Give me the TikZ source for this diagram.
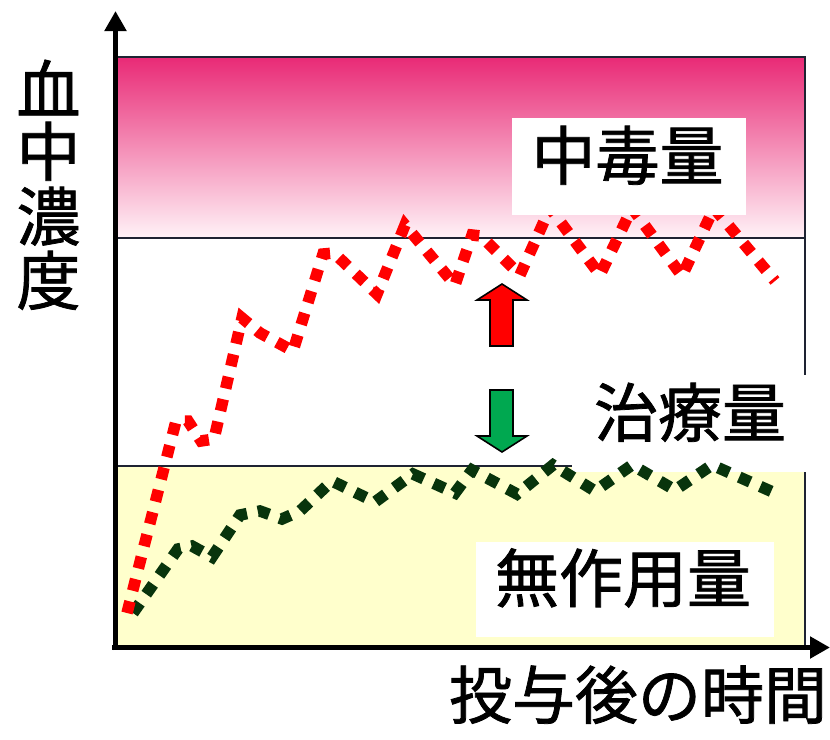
\documentclass[tikz,border=0pt]{standalone}
\usepackage{fontspec}
\setmainfont{Noto Sans CJK JP}[FakeBold=1.2]
\usetikzlibrary{arrows.meta}
\definecolor{pinktop}{RGB}{233,42,118}
\definecolor{pinkmid}{RGB}{246,135,180}
\definecolor{pinkbot}{RGB}{255,242,247}
\definecolor{paleyellow}{RGB}{255,255,204}
\definecolor{arrowgreen}{RGB}{0,168,80}
\definecolor{curvegreen}{RGB}{8,52,12}
\definecolor{curvered}{RGB}{255,0,0}
\definecolor{edgeline}{RGB}{30,35,50}
\tikzset{
  bigtext/.style={font=\fontsize{64}{70}\selectfont, inner sep=0pt, text height=0.82em, text depth=0.1em},
  labelbox/.style={fill=white, draw=none, inner sep=0pt},
  regionline/.style={draw=edgeline, line width=1.8pt},
  dotcurve/.style={line width=11.5pt, dash pattern=on 12pt off 11pt, line join=miter},
  axisline/.style={line width=5pt, -{Triangle[width=21pt,length=20pt]}},
  bigarrow/.style={draw=black, line width=1.6pt, line join=miter}
}
\begin{document}
\begin{tikzpicture}[x=1pt,y=-1pt]
\useasboundingbox (0,0) rectangle (830,739);
\fill[white] (0,0) rectangle (830,739);
% regions
\shade[top color=pinktop, middle color=pinkmid, bottom color=pinkbot] (118,57) rectangle (805,238);
\fill[paleyellow] (118,466) rectangle (805,648);
\draw[regionline] (118,57) -- (805,57) -- (805,648);
\draw[regionline] (118,238) -- (805,238);
\draw[regionline] (118,466) -- (805,466);
% label box for therapeutic range
\node[labelbox, minimum width=258pt, minimum height=97pt] (tbox) at (701,423.5) {};
% arrows
\filldraw[bigarrow, fill=curvered] (502,284) -- (527,300) -- (513,300) -- (513,346) -- (490,346) -- (490,300) -- (477,300) -- cycle;
\filldraw[bigarrow, fill=arrowgreen] (502,452) -- (527,436) -- (513,436) -- (513,390) -- (490,390) -- (490,436) -- (477,436) -- cycle;
% curves
\draw[dotcurve, curvegreen] (133,613) -- (178,549) -- (192,546) -- (212,557) -- (240,515) -- (260,511) -- (282,519) -- (300,511) -- (332,481) -- (375,502) -- (413,474) -- (455,493) -- (472,470) -- (517,494) -- (553,465) -- (595,491) -- (632,465) -- (675,490) -- (712,465) -- (775,493);
\draw[dotcurve, curvered] (127,613) -- (176,421) -- (188,421) -- (201,441) -- (214,439) -- (242,318) -- (260,333) -- (293,351) -- (323,254) -- (334,253) -- (377,294) -- (405,225) -- (455,285) -- (472,235) -- (481,236) -- (520,275) -- (550,208) -- (600,275) -- (632,208) -- (682,276) -- (714,208) -- (775,281);
% label boxes
\node[labelbox, minimum width=234pt, minimum height=97pt] (cbox) at (629,166.5) {};
\node[labelbox, minimum width=298pt, minimum height=95pt] (nbox) at (625,589.5) {};
% axes
\coordinate (origin) at (115.5,650);
\coordinate (ytip) at (115.5,11);
\coordinate (xstart) at (112,647.5);
\coordinate (xtip) at (830,647.5);
\draw[axisline] (origin) -- (ytip);
\draw[axisline] (xstart) -- (xtip);
% texts
\node[bigtext] (toxic) at (627.5,176) {中毒量};
\node[bigtext] (thera) at (690,433) {治療量};
\node[bigtext] (noeff) at (623,598.5) {無作用量};
\node[bigtext, font=\fontsize{63}{70}\selectfont] (xlabel) at (638,715) {投与後の時間};
\node[bigtext] (y1) at (48.5,110) {血};
\node[bigtext] (y2) at (48.5,172) {中};
\node[bigtext] (y3) at (48.5,237) {濃};
\node[bigtext] (y4) at (48.5,301) {度};
\end{tikzpicture}
\end{document}
